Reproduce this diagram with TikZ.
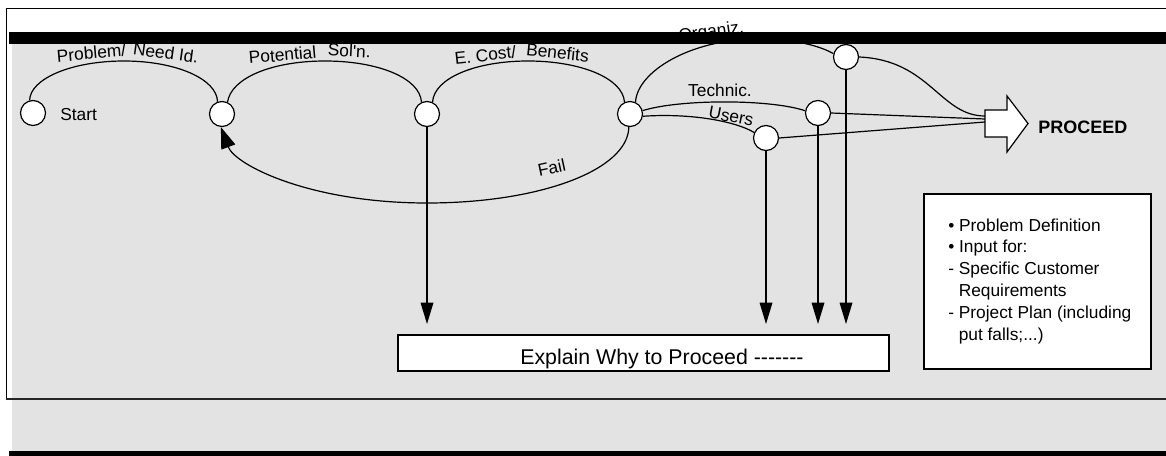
\documentclass[tikz,border=0pt]{standalone}
\usepackage{fontspec}
\newfontfamily\diagfont{Liberation Sans}
\usetikzlibrary{arrows.meta,shadows}
\definecolor{panelgray}{RGB}{227,227,227}
\definecolor{shadowgray}{RGB}{95,95,95}
\begin{document}
\begin{tikzpicture}[x=0.75pt,y=-0.75pt,
  font=\diagfont\fontsize{13pt}{15.6pt}\selectfont,
  stnode/.style={circle,draw,fill=white,line width=0.9pt,minimum size=18.75pt,inner sep=0pt},
  link/.style={line width=0.9pt},
  droparrow/.style={link,-{Triangle[length=16pt,width=9.5pt]}},
  failarrow/.style={link,-{Triangle[length=16pt,width=11pt]}},
  lbl/.style={inner sep=0pt,anchor=base},
  notetext/.style={inner sep=0pt,anchor=base west},
  panelbox/.style={draw,fill=white,line width=0.8pt,inner sep=0pt,
    general shadow={fill=shadowgray,shadow xshift=1pt,shadow yshift=-1pt}},
]
\useasboundingbox (0,0) rectangle (1166,456);

% page and grey panel
\fill[white] (0,0) rectangle (1166,456);
\fill[panelgray] (12,44) rectangle (1166,451);

% frame lines
\draw[line width=0.7pt] (1166,8) -- (6,8) -- (6,399);
\draw[line width=1.3pt,black!85] (6,399) -- (1166,399);

% decision points
\node[stnode] (start)   at (33,113)  {};
\node[stnode] (c1)      at (222,114) {};
\node[stnode] (c2)      at (427,114) {};
\node[stnode] (c3)      at (630,114) {};
\node[stnode] (users)   at (766,138) {};
\node[stnode] (technic) at (818,113) {};
\node[stnode] (organiz) at (846,57)  {};

% entry points on the PROCEED arrow
\coordinate (inA) at (985,116);
\coordinate (inB) at (985,119);
\coordinate (inC) at (985,122);
\coordinate (tips) at (0,324);

% stage arcs
\draw[link] (start.105) .. controls (30,79) and (71,61) .. (124,61)
            .. controls (176,61) and (217,79) .. (c1.110);
\draw[link] (c1.65) .. controls (231,78) and (272,61) .. (325,61)
            .. controls (378,61) and (420,78) .. (c2.115);
\draw[link] (c2.65) .. controls (434,78) and (476,61) .. (528,61)
            .. controls (580,61) and (623,78) .. (c3.115);
\draw[link] (c3.65) .. controls (637,72) and (690,39) .. (758,39)
            .. controls (795,39) and (820,46) .. (organiz.165);
\draw[link] (c3.15) .. controls (680,99) and (770,99) .. (technic.170);
\draw[link] (c3.-10) .. controls (690,113) and (735,121) .. (users.155);

% into PROCEED
\draw[link] (organiz.east) .. controls (930,60) and (940,116) .. (inA);
\draw[link] (technic.east) -- (inB);
\draw[link] (users.east) -- (inC);

% failure loop back to the solution stage
\draw[failarrow] (c3.265) .. controls (628,170) and (540,203) .. (427,203)
                 .. controls (310,203) and (235,165) .. (c1.265);

% drops to the explanation box
\foreach \n in {c2,users,technic,organiz}
  \draw[droparrow] (\n.south) -- (\n.south |- tips);

% PROCEED arrow
\filldraw[fill=white,link] (985,110) -- (1007,110) -- (1007,96) -- (1028,123.5)
  -- (1007,152) -- (1007,137) -- (985,137) -- cycle;
\node[notetext,font=\diagfont\bfseries\fontsize{13.5pt}{16pt}\selectfont] (proceed) at (1038,134) {PROCEED};

% labels
\node[notetext] (lstart) at (60,121) {Start};
\node[lbl,rotate=5]  (lprob) at (92,59)  {Problem/};
\node[lbl,rotate=-8] (lneed) at (165,59) {Need Id.};
\node[lbl,rotate=5]  (lpot)  at (283,61) {Potential};
\node[lbl,rotate=-3] (lsol)  at (349,57) {Sol'n.};
\node[lbl,rotate=6]  (lcost) at (486,61) {E. Cost/};
\node[lbl,rotate=-6] (lben)  at (557,59) {Benefits};
\node[lbl,rotate=8]  (lorg)  at (712,37) {Organiz.};
\node[lbl] (ltech) at (720,97) {Technic.};
\node[lbl,rotate=-11] (lusers) at (730,122) {Users};
\node[lbl,rotate=12] (lfail) at (553,174) {Fail};

% explanation box
\node[panelbox,minimum width=368.25pt,minimum height=27pt] (explain) at (643.5,353) {};
\node[notetext,font=\diagfont\fontsize{16pt}{19pt}\selectfont] (explaintext) at (520,364) {Explain Why to Proceed -------};

% notes box
\node[panelbox,minimum width=170.25pt,minimum height=131.25pt] (notes) at (1037.5,281.5) {};
\node[notetext] (n1) at (948,231)   {\textbullet\ Problem Definition};
\node[notetext] (n2) at (948,252.8) {\textbullet\ Input for:};
\node[notetext] (n3) at (948,274.6) {- Specific Customer};
\node[notetext] (n4) at (958.5,296.4) {Requirements};
\node[notetext] (n5) at (948,318.2) {- Project Plan (including};
\node[notetext] (n6) at (958.5,340) {put falls;...)};

% title bars
\fill[black] (9,32) rectangle (1166,44);
\fill[black] (9,451) rectangle (1166,456);
\end{tikzpicture}
\end{document}
